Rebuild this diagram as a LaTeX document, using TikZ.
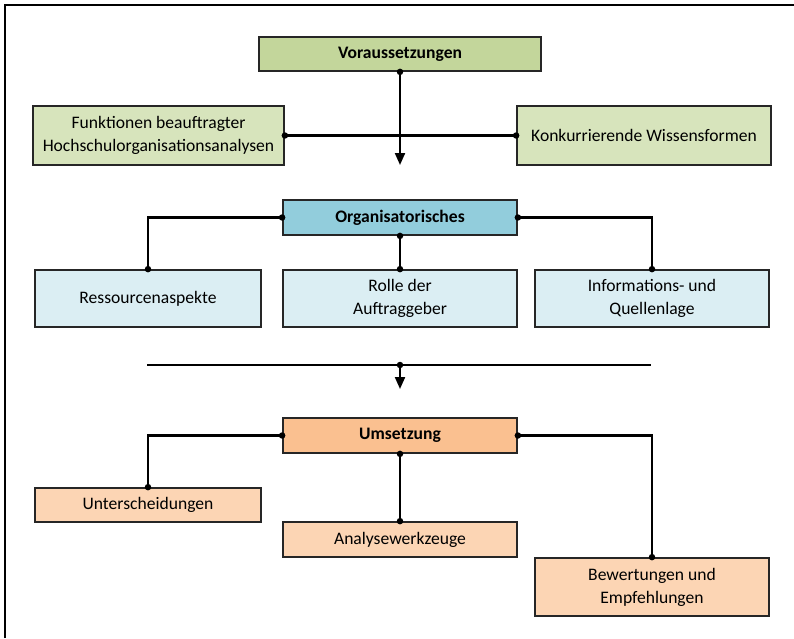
\documentclass[tikz,border=0pt]{standalone}
\usepackage{fontspec}
\setmainfont{Carlito}
\usepackage{xcolor}
\usepackage{tikz}
\usetikzlibrary{arrows.meta,calc}

\definecolor{gruenKopf}{HTML}{C3D69B}
\definecolor{gruenHell}{HTML}{D7E4BC}
\definecolor{blauKopf}{HTML}{92CDDC}
\definecolor{blauHell}{HTML}{DBEEF3}
\definecolor{orangeKopf}{HTML}{FAC090}
\definecolor{orangeHell}{HTML}{FCD5B4}

\begin{document}
\begin{tikzpicture}[>={Triangle[width=2mm,length=2.4mm]},
  kasten/.style={draw=black!85,line width=1pt,align=center,inner sep=0pt,font=\fontsize{10}{13.2}\selectfont},
  kopf/.style={kasten,font=\bfseries\fontsize{10}{13.2}\selectfont},
  verb/.style={line width=1.2pt},
  punkt/.style={fill=black,circle,inner sep=0pt,minimum size=1.3mm}]
  \useasboundingbox (0,0) rectangle (15.88,-12.76);
  % --- Rahmen ---
  \draw[line width=1.3pt] (0.1,-12.76) -- (0.1,-0.1) -- (15.88,-0.1);
  % --- Teil 1: Voraussetzungen ---
  \node[kopf,fill=gruenKopf,minimum width=5.64cm,minimum height=0.68cm] (vor) at (8,-1.08) {Voraussetzungen};
  \node[kasten,fill=gruenHell,minimum width=5.02cm,minimum height=1.18cm] (fkt) at (3.17,-2.71) {Funktionen beauftragter\\Hochschulorganisationsanalysen};
  \node[kasten,fill=gruenHell,minimum width=5.08cm,minimum height=1.18cm] (konk) at (12.88,-2.71) {Konkurrierende Wissensformen};
  \coordinate (pfeilA) at (8,-3.3);
  \draw[verb] (fkt.east) -- (konk.west);
  \draw[verb,->] (vor.south) -- (pfeilA);
  \node[punkt] at (vor.south) {};
  \node[punkt] at (fkt.east) {};
  \node[punkt] at (konk.west) {};
  % --- Teil 2: Organisatorisches ---
  \node[kopf,fill=blauKopf,minimum width=4.68cm,minimum height=0.7cm] (org) at (8,-4.35) {Organisatorisches};
  \node[kasten,fill=blauHell,minimum width=4.52cm,minimum height=1.14cm] (res) at (2.96,-5.97) {Ressourcenaspekte};
  \node[kasten,fill=blauHell,minimum width=4.68cm,minimum height=1.14cm] (rol) at (8,-5.97) {Rolle der\\Auftraggeber};
  \node[kasten,fill=blauHell,minimum width=4.68cm,minimum height=1.14cm] (inf) at (13.04,-5.97) {Informations- und\\Quellenlage};
  \draw[verb] (org.west) -| (res.north);
  \draw[verb] (org.east) -| (inf.north);
  \draw[verb] (org.south) -- (rol.north);
  \foreach \p in {org.west,org.east,org.south,res.north,inf.north,rol.north}
    \node[punkt] at (\p) {};
  % --- Trennlinie ---
  \coordinate (linksT) at (2.94,-7.3);
  \coordinate (rechtsT) at (13.02,-7.3);
  \coordinate (mitteT) at (8,-7.3);
  \coordinate (pfeilB) at (8,-7.78);
  \draw[line width=1pt] (linksT) -- (rechtsT);
  \draw[verb,->] (mitteT) -- (pfeilB);
  \node[punkt] at (mitteT) {};
  % --- Teil 3: Umsetzung ---
  \node[kopf,fill=orangeKopf,minimum width=4.68cm,minimum height=0.7cm] (ums) at (8,-8.71) {Umsetzung};
  \node[kasten,fill=orangeHell,minimum width=4.52cm,minimum height=0.68cm] (unt) at (2.96,-10.1) {Unterscheidungen};
  \node[kasten,fill=orangeHell,minimum width=4.68cm,minimum height=0.7cm] (ana) at (8,-10.79) {Analysewerkzeuge};
  \node[kasten,fill=orangeHell,minimum width=4.68cm,minimum height=1.16cm] (bew) at (13.04,-11.74) {Bewertungen und\\Empfehlungen};
  \draw[verb] (ums.west) -| (unt.north);
  \draw[verb] (ums.east) -| (bew.north);
  \draw[verb] (ums.south) -- (ana.north);
  \foreach \p in {ums.west,ums.east,ums.south,unt.north,bew.north,ana.north}
    \node[punkt] at (\p) {};
\end{tikzpicture}
\end{document}
